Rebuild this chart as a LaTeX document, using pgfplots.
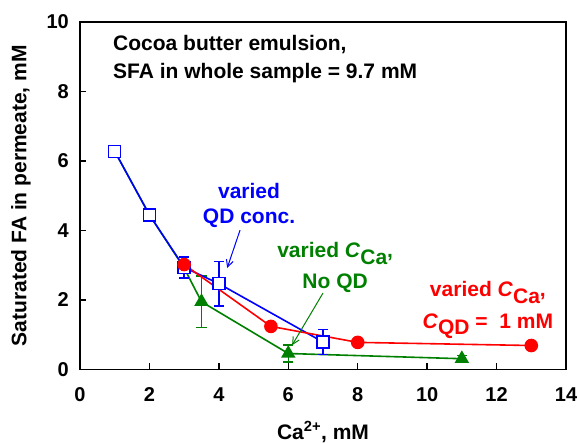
\documentclass[border=0pt]{standalone}
\usepackage{pgfplots}
\pgfplotsset{compat=1.18}
\usepackage{fontspec}
\setmainfont{Liberation Sans}
\usetikzlibrary{arrows.meta}
\definecolor{cblue}{RGB}{0,0,255}
\definecolor{cgreen}{RGB}{0,128,0}
\definecolor{cred}{RGB}{255,0,0}
\newcommand{\bigf}{\fontsize{21}{26}\selectfont\bfseries}
\begin{document}
\begin{tikzpicture}
\begin{axis}[
  at={(0,0)}, anchor=south west,
  scale only axis, width=486pt, height=347.5pt,
  xmin=0, xmax=14, ymin=0, ymax=10,
  xtick={0,2,...,14}, ytick={0,2,...,10},
  xtick pos=bottom, ytick pos=left,
  tick align=inside, major tick length=6pt,
  axis line style={line width=1.8pt},
  every tick/.style={black, line width=1.5pt},
  /pgf/number format/assume math mode=true,
  tick label style={font=\fontsize{20}{24}\selectfont\bfseries, inner sep=0pt},
  xticklabel style={yshift=-18pt},
  yticklabel style={xshift=-11pt},
  xlabel={Ca\textsuperscript{2+}, mM},
  ylabel={Saturated FA in permeate, mM},
  label style={font=\bigf},
  xlabel style={at={(axis description cs:0.5,-0.18)}, anchor=center},
  ylabel style={at={(axis description cs:-0.1214,0.5)}, anchor=center},
  clip=false,
]
% green: varied C_Ca, no QD
\addplot[cgreen, line width=1.6pt, mark=triangle*, mark size=6.8pt,
  mark options={fill=cgreen, draw=cgreen}, mark indices={4,5,6},
  error bars/.cd, y dir=both, y explicit,
  error bar style={line width=1.5pt, cgreen},
  error mark options={rotate=90, mark size=5pt, line width=1.5pt, cgreen}]
  coordinates {
  (1,6.28) +- (0,0)
  (2,4.45) +- (0,0)
  (3,2.92) +- (0,0)
  (3.5,1.95) +- (0,0.74)
  (6,0.46) +- (0,0.25)
  (11,0.31) +- (0,0.09)
  };
% blue: varied QD conc.
\addplot[cblue, line width=1.6pt, mark=square*, mark size=6pt,
  mark options={fill=white, draw=cblue, line width=1.5pt},
  error bars/.cd, y dir=both, y explicit,
  error bar style={line width=1.5pt, cblue},
  error mark options={rotate=90, mark size=5pt, line width=1.5pt, cblue}]
  coordinates {
  (1,6.28) +- (0,0)
  (2,4.45) +- (0,0)
  (3,2.94) +- (0,0.30)
  (4,2.47) +- (0,0.64)
  (7,0.79) +- (0,0.36)
  };
% red: varied C_Ca, C_QD = 1 mM
\addplot[cred, line width=1.6pt, mark=*, mark size=6pt,
  mark options={fill=cred, draw=cred}]
  coordinates {
  (3,3.02)
  (5.5,1.24)
  (8,0.78)
  (13,0.69)
  };
% annotations
\node[anchor=base west, font=\bigf, inner sep=0pt] at (axis cs:0.95,9.17) {Cocoa butter emulsion,};
\node[anchor=base west, font=\bigf, inner sep=0pt] at (axis cs:0.95,8.36) {SFA in whole sample = 9.7 mM};
\node[anchor=base, font=\bigf, text=cblue, inner sep=0pt] at (axis cs:4.87,4.91) {varied};
\node[anchor=base, font=\bigf, text=cblue, inner sep=0pt] at (axis cs:4.87,4.19) {QD conc.};
\draw[cblue, line width=1pt, -{Straight Barb[length=7pt,width=7pt]}] (axis cs:4.61,4.01) -- (axis cs:4.24,2.92);
\node[anchor=base, font=\bigf, text=cgreen, inner sep=0pt] at (axis cs:7.35,3.21) {varied \textit{C}\raisebox{-0.3em}{Ca},};
\node[anchor=base, font=\bigf, text=cgreen, inner sep=0pt] at (axis cs:7.35,2.32) {No QD};
\draw[cgreen, line width=1pt, -{Straight Barb[length=7pt,width=7pt]}] (axis cs:7.0,2.20) -- (axis cs:6.11,0.70);
\node[anchor=base, font=\bigf, text=cred, inner sep=0pt] at (axis cs:11.75,2.09) {varied \textit{C}\raisebox{-0.3em}{Ca},};
\node[anchor=base, font=\bigf, text=cred, inner sep=0pt] at (axis cs:11.75,1.19) {\textit{C}\raisebox{-0.3em}{QD} =\ \ 1 mM};
\end{axis}
\pgfresetboundingbox
\useasboundingbox (-80pt,-73.5pt) rectangle (498pt,369.5pt);
\end{tikzpicture}
\end{document}
